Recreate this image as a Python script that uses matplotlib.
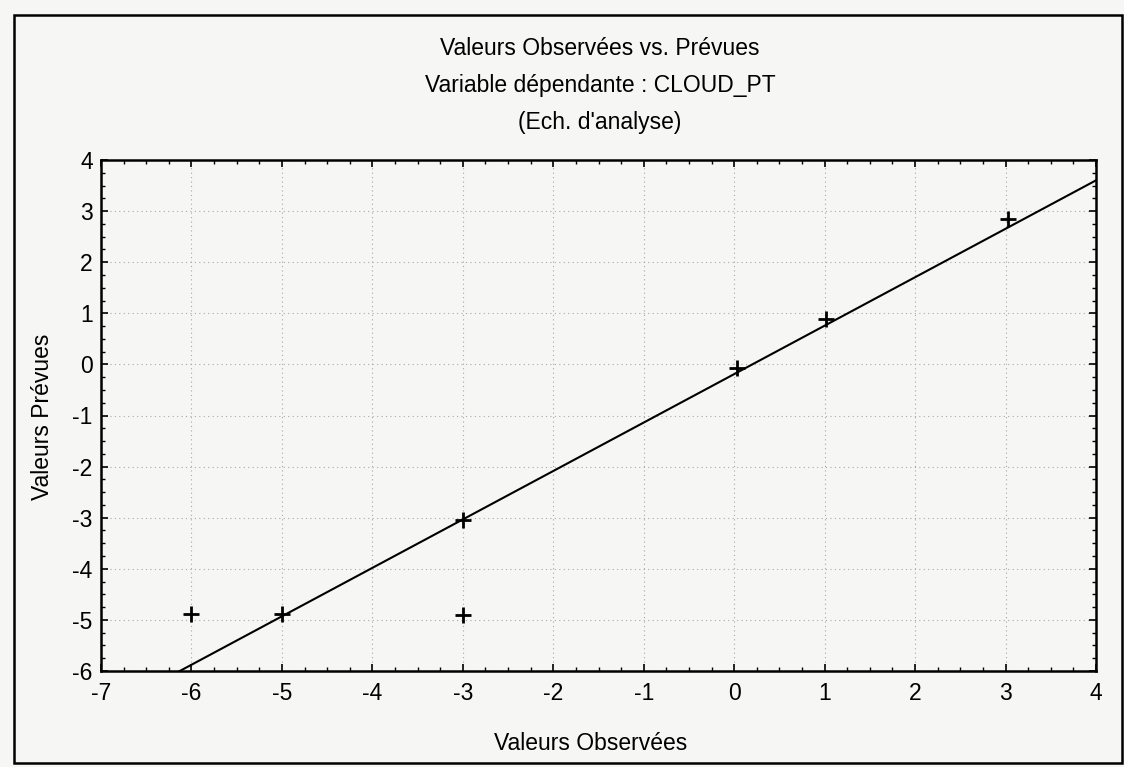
import numpy as np
import matplotlib
matplotlib.use("Agg")
import matplotlib.pyplot as plt
from matplotlib.ticker import MultipleLocator
from matplotlib.patches import Rectangle

# Data
observed = [-6, -5, -3, -3, 0.03, 1.02, 3.03]
predicted = [-4.88, -4.88, -3.04, -4.9, -0.08, 0.88, 2.85]
fit_intercept = -0.19
fit_slope = 0.948

xticks = [-7, -6, -5, -4, -3, -2, -1, 0, 1, 2, 3, 4]
yticks = [-6, -5, -4, -3, -2, -1, 0, 1, 2, 3, 4]

title_lines = ['Valeurs Observées vs. Prévues',
               'Variable dépendante : CLOUD_PT',
               "(Ech. d'analyse)"]

plt.rcParams['font.family'] = ['Liberation Sans', 'DejaVu Sans']
plt.rcParams['axes.unicode_minus'] = False

FS = 16.5
W, H = 1124, 767
fig = plt.figure(figsize=(W / 100, H / 100), dpi=100)
bg = '#f6f6f5'
fig.patch.set_facecolor(bg)
ax = fig.add_axes([101 / W, 1 - 671 / H, (1096 - 101) / W, (671 - 160) / H])
ax.set_facecolor(bg)

ax.set_xlim(-7, 4)
ax.set_ylim(-6, 4)
ax.set_xticks(xticks)
ax.set_yticks(yticks)
ax.xaxis.set_minor_locator(MultipleLocator(0.25))
ax.yaxis.set_minor_locator(MultipleLocator(0.25))
ax.tick_params(which='both', direction='in', top=True, right=True, labelsize=FS, color='black')
ax.tick_params(which='major', length=5, width=1.2)
ax.tick_params(which='minor', length=3, width=1.0)
ax.tick_params(axis='x', pad=8)
ax.tick_params(axis='y', pad=6)
for s in ax.spines.values():
    s.set_linewidth(1.8)

ax.grid(True, which='major', linestyle=(0, (1, 3)), color='#a8a8a8', linewidth=0.8)
ax.set_axisbelow(True)

xs = np.array([-7, 4])
ax.plot(xs, fit_intercept + fit_slope * xs, color='black', linewidth=1.5)
ax.plot(observed, predicted, linestyle='none', marker='+', markersize=12,
        markeredgewidth=2, color='black')

fig.text(591 / W, 1 - 750 / H, 'Valeurs Observées', ha='center', va='baseline', fontsize=FS)
fig.text(43 / W, 1 - 417 / H, 'Valeurs Prévues', ha='center', va='center',
         rotation=90, fontsize=FS)

for i, line in enumerate(title_lines):
    fig.text(600 / W, 1 - (55 + 37 * i) / H, line, ha='center', va='baseline', fontsize=FS)

fig.patches.append(Rectangle((14 / W, 1 - 763 / H), (1122 - 14) / W, (763 - 15) / H,
                             transform=fig.transFigure, fill=False, edgecolor='black',
                             linewidth=1.8))

fig.savefig('out.png', dpi=100, facecolor=bg)
